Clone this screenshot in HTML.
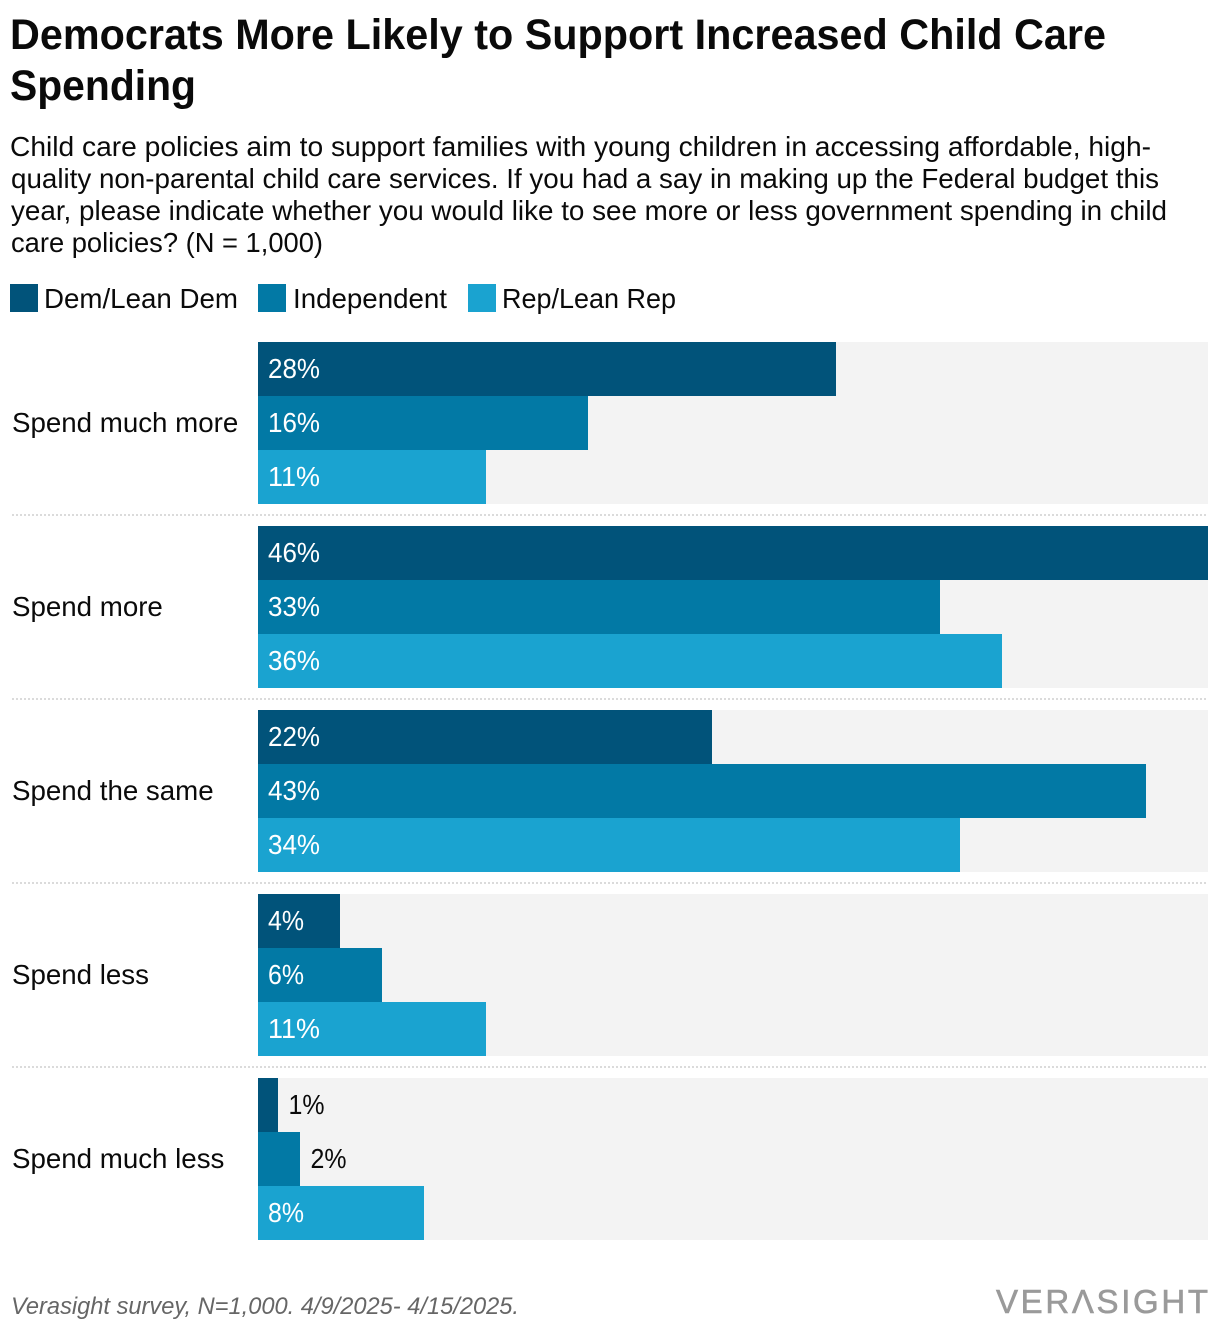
<!DOCTYPE html>
<html lang="en">
<head>
<meta charset="utf-8">
<title>Democrats More Likely to Support Increased Child Care Spending</title>
<style>
html,body{margin:0;padding:0;background:#fff;}
svg{display:block;font-family:"Liberation Sans",sans-serif;}
text{fill:#0a0a0a;}
</style>
</head>
<body>
<svg id="chart" xmlns="http://www.w3.org/2000/svg" width="1220" height="1332" viewBox="0 0 1220 1332">
  <g font-weight="700" font-size="43">
    <text x="10" y="49" textLength="1096" lengthAdjust="spacingAndGlyphs">Democrats More Likely to Support Increased Child Care</text>
    <text x="10" y="100" textLength="186" lengthAdjust="spacingAndGlyphs">Spending</text>
  </g>
  <g font-size="28">
    <text x="10" y="156" textLength="1141" lengthAdjust="spacingAndGlyphs">Child care policies aim to support families with young children in accessing affordable, high-</text>
    <text x="11" y="188" textLength="1148" lengthAdjust="spacingAndGlyphs">quality non-parental child care services. If you had a say in making up the Federal budget this</text>
    <text x="11" y="220" textLength="1156" lengthAdjust="spacingAndGlyphs">year, please indicate whether you would like to see more or less government spending in child</text>
    <text x="11" y="252" textLength="312" lengthAdjust="spacingAndGlyphs">care policies? (N = 1,000)</text>
  </g>
  <g font-size="28">
    <g>
      <rect x="10" y="284" width="28" height="28" fill="#01537a"/>
      <text x="44" y="308" textLength="194" lengthAdjust="spacingAndGlyphs">Dem/Lean Dem</text>
    </g>
    <g>
      <rect x="258" y="284" width="28" height="28" fill="#0279a5"/>
      <text x="293" y="308" textLength="154" lengthAdjust="spacingAndGlyphs">Independent</text>
    </g>
    <g>
      <rect x="468" y="284" width="28" height="28" fill="#1aa3d0"/>
      <text x="502" y="308" textLength="174" lengthAdjust="spacingAndGlyphs">Rep/Lean Rep</text>
    </g>
  </g>
  <g id="plot"></g>
  <text x="11" y="1314" font-size="24" font-style="italic" style="fill:#666666" textLength="508" lengthAdjust="spacingAndGlyphs">Verasight survey, N=1,000. 4/9/2025- 4/15/2025.</text>
  <text aria-label="Verasight" x="996" y="1313" font-size="33" style="fill:#9a9a9a;stroke:#9a9a9a;stroke-width:0.6" textLength="212" lengthAdjust="spacing">VERΛSIGHT</text>
</svg>
<script>
const categories = ["Spend much more", "Spend more", "Spend the same", "Spend less", "Spend much less"];
const seriesNames = ["Dem/Lean Dem", "Independent", "Rep/Lean Rep"];
const demValues = [28, 46, 22, 3.97, 0.97];
const indValues = [16, 33, 43, 6, 2.03];
const repValues = [11.04, 36.03, 34, 11.04, 8.04];
const axisMax = 46;

const seriesValues = [demValues, indValues, repValues];
const seriesColors = ["#01537a", "#0279a5", "#1aa3d0"];
const NS = "http://www.w3.org/2000/svg";
const plot = document.getElementById("plot");
const plotLeft = 258, plotWidth = 950, groupTop = 342, groupStep = 184, barHeight = 54;

function xScale(v) { return Math.round(v / axisMax * plotWidth); }
function groupY(i) { return groupTop + i * groupStep; }
function barY(i, s) { return groupY(i) + s * barHeight; }
function make(tag, attrs) {
  const el = document.createElementNS(NS, tag);
  for (const k in attrs) el.setAttribute(k, attrs[k]);
  plot.appendChild(el);
  return el;
}

categories.forEach(function (cat, i) {
  const track = make("rect", { x: plotLeft, y: groupY(i), width: plotWidth, height: barHeight * seriesNames.length, fill: "#f3f3f3" });
  
  

  const label = make("text", { x: 12, y: groupY(i) + 90, "font-size": 27.7 });
  
  
  label.textContent = cat;

  if (i < categories.length - 1) {
    const sep = make("line", { x1: 12, x2: 1208, y1: groupY(i) + 173, y2: groupY(i) + 173, stroke: "#cfcfcf", "stroke-width": 1.5, "stroke-dasharray": "2 2" });
    
    
  }

  seriesValues.forEach(function (values, s) {
    const w = xScale(values[i]);
    const bar = make("rect", { x: plotLeft, y: barY(i, s), width: w, height: barHeight, fill: seriesColors[s] });
    
    

    const inside = w > 60;
    const printed = String(Math.round(values[i]));
    const val = make("text", {
      x: inside ? plotLeft + 10 : plotLeft + w + 10.5,
      y: barY(i, s) + 36,
      "font-size": 27.5,
      "font-kerning": "none",
      textLength: 16 * printed.length + 20,
      lengthAdjust: "spacingAndGlyphs"
    });
    
    
    val.style.fill = inside ? "#ffffff" : "#0a0a0a";
    val.textContent = printed + "%";
  });
});
</script>
</body>
</html>
